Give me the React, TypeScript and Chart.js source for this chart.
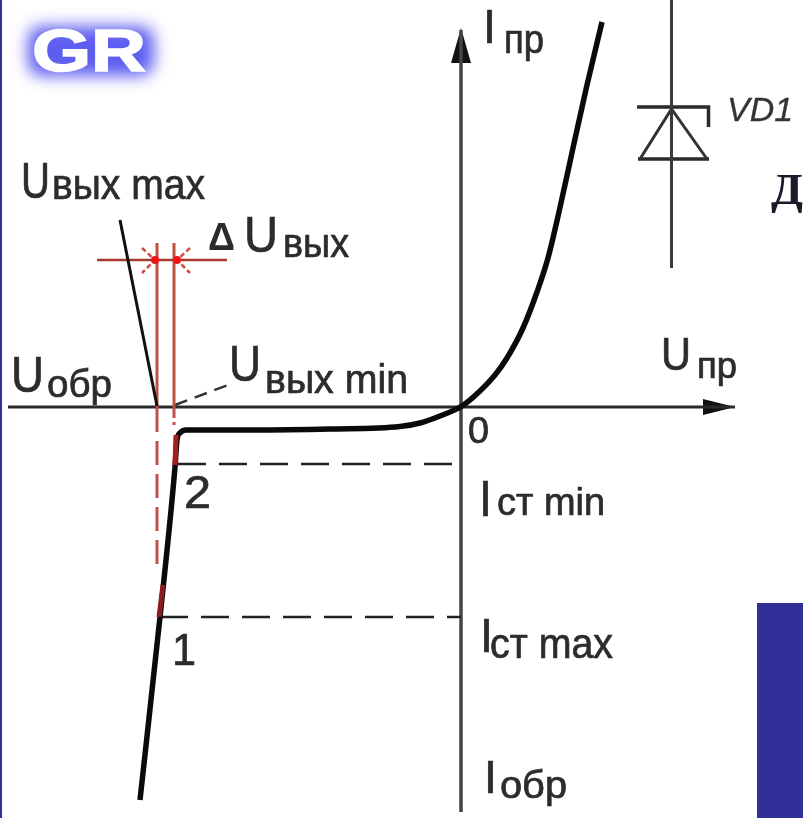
import React, { useEffect, useRef } from "react";
import { Chart, registerables } from "chart.js";

Chart.register(...registerables);

// Characteristic curve of the Zener diode, in chart units
const curveU = [-32.1, -30.1, -28.6, -28.4, -28.1, -27.5, -21.1, -13.1, -6.1, -4.1, -2.1, 0.1, 1.9, 3.4, 4.6, 6.2, 7.6, 8.7, 9.8, 11.2, 12.6, 14.1];
const curveI = [-39.2, -20.9, -5.9, -3.2, -2.5, -2.2, -2.2, -2.1, -1.85, -1.5, -0.8, 0.2, 1.7, 3.3, 5.0, 8.0, 11.6, 15.0, 19.6, 26.0, 32.3, 38.6];

// Construction lines, [U, I]
const axisU = [[-45.3, 0.1], [27.4, 0.1]];
const axisI = [[0, -40.4], [0, 37.8]];
const arrowHeadU = [[24.2, 0.9], [27.4, 0.1], [24.2, -0.7]];
const arrowHeadI = [[-1.0, 34.5], [0, 38.0], [1.0, 34.5]];
const levelMin = [[-28.3, -5.6], [0, -5.6]];
const levelMax = [[-30.1, -20.9], [0, -20.9]];
const leaderMax = [[-34.1, 18.8], [-30.4, 0.2]];
const leaderMin = [[-28.6, 0.3], [-23.3, 2.3]];

// Output voltage band, red construction
const bandTop = [[-36.4, 14.8], [-23.4, 14.8]];
const bandMaxSolid = [[-30.4, 16.5], [-30.4, 0]];
const bandMaxDash = [[-30.4, 0], [-30.4, -16.5]];
const bandMinSolid = [[-28.7, 16.5], [-28.7, 0]];
const bandMinDash = [[-28.7, 0], [-28.7, -1.7]];
const workOverlayLow = [[-29.8, -17.7], [-30.2, -20.9]];
const workOverlayHigh = [[-28.5, -2.7], [-28.6, -5.7]];
const tickA = [[-31.9, 16.0], [-30.6, 14.8], [-31.9, 13.5]];
const tickB = [[-27.1, 16.0], [-28.4, 14.8], [-27.1, 13.5]];
const bandDots = [[-30.6, 14.8], [-28.4, 14.8]];

// Diode symbol
const diodeStem = [[21.05, 40.8], [21.05, 14.0]];
const diodeBar = [[17.6, 30.1], [24.75, 30.1], [24.75, 28.1]];
const diodeBody = [[17.9, 24.9], [21.05, 29.9], [24.6, 24.9]];
const diodeBase = [[17.7, 24.9], [24.8, 24.9]];

const logoText = "GR";
const sideLetter = "Д";
const symbolName = "VD1";
const delta = "Δ";

const INK = "#2c2c2c";
type Piece = [string, number, number, number, number];
const pieces: Piece[] = [
  ["U", 21, 198, 50, 29],
  ["вых max", 52, 199, 43, 153],
  ["U", 244, 252, 50, 34],
  ["вых", 283, 257, 40, 66],
  ["U", 11, 392, 50, 33],
  ["обр", 47, 397, 38, 65],
  ["U", 229, 381, 50, 32],
  ["вых min", 265, 393, 40, 143],
  ["I", 483, 43, 48, 13],
  ["пр", 504, 53, 40, 40],
  ["U", 661, 370, 46, 30],
  ["пр", 697, 378, 36, 40],
  ["0", 468, 443, 36, 21],
  ["2", 184, 508, 46, 27],
  ["1", 172, 665, 44, 24],
  ["I", 479, 516, 50, 13],
  ["ст min", 497, 515, 38, 108],
  ["I", 480, 652, 48, 13],
  ["ст max", 490, 658, 42, 123],
  ["I", 484, 793, 46, 13],
  ["обр", 500, 798, 38, 67],
];

const xy = (pts: number[][]) => pts.map(([x, y]) => ({ x, y }));

const line = (pts: number[][], color: string, width: number, dash: number[] = [], extra: any = {}) => ({
  type: "line" as const,
  data: xy(pts),
  borderColor: color,
  borderWidth: width,
  borderDash: dash,
  pointRadius: 0,
  tension: 0,
  fill: false,
  ...extra,
});

const decor = {
  id: "decor",
  beforeDatasetsDraw(chart: any) {
    const c = chart.ctx as CanvasRenderingContext2D;
    c.save();
    c.fillStyle = "#ffffff";
    c.fillRect(0, 0, 803, 818);
    c.fillStyle = "#31309a";
    c.fillRect(0, 0, 2, 818);
    c.fillRect(757, 603, 46, 215);
    // logo glow
    c.filter = "blur(8px)";
    c.fillStyle = "#5d5df0";
    c.beginPath();
    c.roundRect(28, 26, 126, 50, 14);
    c.fill();
    c.filter = "none";
    c.restore();
  },
  afterDatasetsDraw(chart: any) {
    const c = chart.ctx as CanvasRenderingContext2D;
    const put = (t: string, x: number, y: number, font: string, w: number, color: string, bold = 0.7) => {
      c.save();
      c.font = font;
      c.fillStyle = color;
      c.strokeStyle = color;
      c.lineWidth = bold;
      c.textBaseline = "alphabetic";
      const natural = c.measureText(t).width;
      c.translate(x, y);
      c.scale(w / natural, 1);
      c.fillText(t, 0, 0);
      if (bold > 0) c.strokeText(t, 0, 0);
      c.restore();
    };
    pieces.forEach(([t, x, y, s, w]) => put(t, x, y, `${s}px "Liberation Sans"`, w, INK));
    put(delta, 208, 250, 'bold 38px "Liberation Sans"', 27, INK, 0);
    put(symbolName, 727, 121, 'italic 34px "Liberation Sans"', 66, "#333333", 0.3);
    put(logoText, 32, 71, 'bold 60px "Liberation Sans"', 114, "#ffffff", 1.5);
    put(sideLetter, 771, 204, 'bold 44px "Liberation Serif"', 32, "#1a1a2a", 0);
  },
};

export default function App() {
  const ref = useRef<HTMLCanvasElement>(null);
  useEffect(() => {
    const chart = new Chart(ref.current!, {
      type: "line",
      data: {
        datasets: [
          line(workOverlayLow, "#8c1c1c", 5),
          line(workOverlayHigh, "#a81c1c", 5),
          { ...line(bandDots, "#f01515", 0), showLine: false, pointRadius: 4, pointBackgroundColor: "#f01515", pointBorderWidth: 0 },
          line(leaderMax, "#111111", 3),
          line(curveU.map((u, i) => [u, curveI[i]]), "#0a0a0a", 5.5, [], { cubicInterpolationMode: "monotone", borderCapStyle: "butt" }),
          line(bandTop, "#a8392c", 2.5),
          line(bandMaxSolid, "#c0503f", 3),
          line(bandMaxDash, "#c0504f", 3, [24, 9]),
          line(bandMinSolid, "#c0503f", 3),
          line(bandMinDash, "#c0504f", 3, [10, 4]),
          line(tickA, "#d04a40", 2.5, [5, 3]),
          line(tickB, "#d04a40", 2.5, [5, 3]),
          line(leaderMin, "#333333", 2.5, [13, 8]),
          line(levelMin, "#222222", 2.5, [28, 13]),
          line(levelMax, "#222222", 2.5, [28, 13]),
          line(axisU, "#2a2a2a", 3),
          line(axisI, "#444444", 3.5),
          line(arrowHeadU, "#111111", 0, [], { fill: "shape", backgroundColor: "#111111" }),
          line(arrowHeadI, "#111111", 0, [], { fill: "shape", backgroundColor: "#111111" }),
          line(diodeStem, "#3a3a3a", 3),
          line(diodeBar, "#2a2a2a", 3.5),
          line(diodeBody, "#333333", 3),
          line(diodeBase, "#2a2a2a", 3.5),
        ] as any,
      },
      options: {
        responsive: false,
        animation: false,
        layout: { padding: 0, autoPadding: false },
        events: [],
        plugins: { legend: { display: false }, tooltip: { enabled: false }, title: { display: false } },
        scales: {
          x: { type: "linear", display: false, min: -46.1, max: 34.2 },
          y: { type: "linear", display: false, min: -41, max: 40.8 },
        },
      },
      plugins: [decor],
    });
    return () => chart.destroy();
  }, []);
  return (
    <canvas
      ref={ref}
      width={803}
      height={818}
      style={{ position: "fixed", left: 0, top: 0, width: 803, height: 818, filter: "blur(0.7px)" }}
    />
  );
}
